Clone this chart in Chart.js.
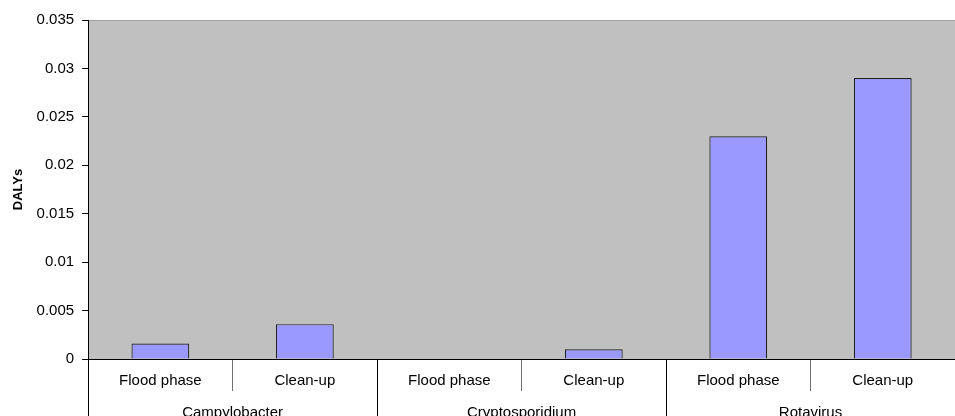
<!DOCTYPE html>
<html>
<head>
<meta charset="utf-8">
<script src="https://cdn.jsdelivr.net/npm/chart.js@4/dist/chart.umd.min.js"></script>
<style>
	html, body {margin: 0; padding: 0; overflow: hidden; background: #fff;}
	#wrap {width: 955px; height: 430px;}
</style>
</head>
<body>
<div id="wrap"><canvas id="dalyChart" width="955" height="430"></canvas></div>
<script>
// data
const phases = ['Flood phase', 'Clean-up', 'Flood phase', 'Clean-up', 'Flood phase', 'Clean-up'];
const pathogens = ['Campylobacter', 'Cryptosporidium', 'Rotavirus'];
const dalys = [0.0016, 0.0036, 0, 0.001, 0.023, 0.029];
const yTicks = [0, 0.005, 0.01, 0.015, 0.02, 0.025, 0.03, 0.035];

// grey plot area with a grey line on top
const plotBack = {
	id: 'plotBack',
	beforeDraw(chart) {
		const a = chart.chartArea;
		const c = chart.ctx;
		c.save();
		c.fillStyle = '#c0c0c0';
		c.fillRect(a.left, a.top, a.right - a.left, a.bottom - a.top);
		c.strokeStyle = '#a0a0a0';
		c.lineWidth = 1;
		c.beginPath();
		c.moveTo(a.left, Math.round(a.top) + 0.5);
		c.lineTo(a.right, Math.round(a.top) + 0.5);
		c.stroke();
		c.restore();
	}
};

const ctx = document.getElementById('dalyChart').getContext('2d');
new Chart(ctx, {
	type: 'bar',
	data: {
		labels: phases,
		datasets: [{
			label: 'DALYs',
			data: dalys,
			xAxisID: 'x',
			backgroundColor: '#9999ff',
			borderColor: '#202020',
			borderWidth: 1.2,
			barPercentage: 0.4,
			categoryPercentage: 1
		}]
	},
	options: {
		responsive: false,
		animation: false,
		layout: {padding: {top: 20, left: 11, right: 0, bottom: 0}},
		plugins: {
			legend: {display: false},
			tooltip: {enabled: false}
		},
		scales: {
			y: {
				min: 0,
				max: 0.035,
				afterBuildTicks: (axis) => { axis.ticks = yTicks.map(v => ({value: v})); },
				ticks: {
					color: '#000',
					font: {family: 'Liberation Sans, Arial', size: 15},
					padding: 8,
					callback: (v) => String(+Number(v).toFixed(3))
				},
				grid: {drawOnChartArea: false, tickLength: 6, color: '#000'},
				border: {color: '#000'},
				title: {
					display: true,
					text: 'DALYs',
					color: '#000',
					font: {family: 'Liberation Sans, Arial', size: 13, weight: 'bold'},
					padding: {top: 0, bottom: 2}
				}
			},
			x: {
				position: 'bottom',
				offset: true,
				afterFit: (axis) => { axis.height = 32; },
				ticks: {
					color: '#000',
					font: {family: 'Liberation Sans, Arial', size: 15},
					padding: -19,
					maxRotation: 0,
					autoSkip: false
				},
				grid: {
					offset: true,
					drawOnChartArea: false,
					tickLength: 32,
					color: (c) => (c.index % 2 === 0 ? '#000' : '#707070')
				},
				border: {color: '#000'}
			},
			x2: {
				type: 'category',
				position: 'bottom',
				labels: pathogens,
				offset: true,
				afterFit: (axis) => { axis.height = 39; },
				ticks: {
					color: '#000',
					font: {family: 'Liberation Sans, Arial', size: 15},
					padding: -26,
					maxRotation: 0,
					autoSkip: false
				},
				grid: {offset: true, drawOnChartArea: false, tickLength: 39, color: '#000'},
				border: {display: false}
			}
		}
	},
	plugins: [plotBack]
});
</script>
</body>
</html>
